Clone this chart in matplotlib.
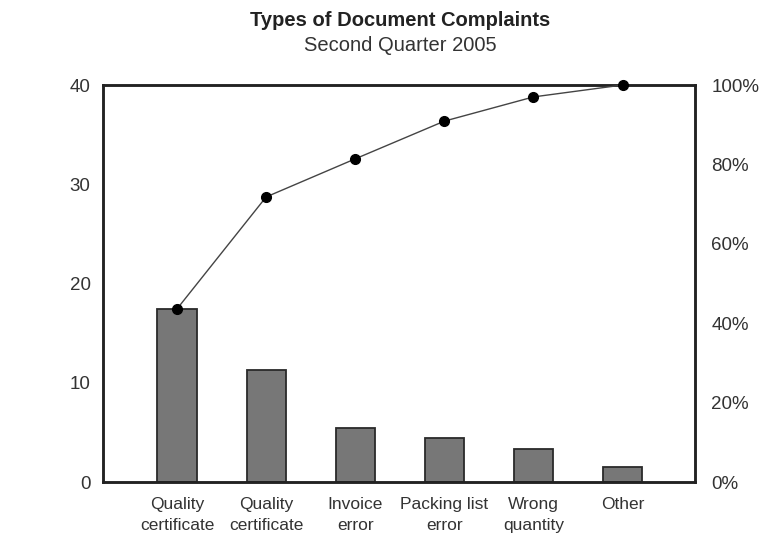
#!/usr/bin/env python3
"""
Pareto chart - types of document complaints, second quarter 2005
"""

import matplotlib
matplotlib.use("Agg")
import matplotlib.pyplot as plt

# dados
categorias = [
    "Quality\ncertificate",
    "Quality\ncertificate",
    "Invoice\nerror",
    "Packing list\nerror",
    "Wrong\nquantity",
    "Other",
]
reclamacoes = [17.4, 11.3, 5.4, 4.4, 3.3, 1.5]
acumulado_pct = [43.6, 71.8, 81.4, 90.9, 97.0, 100.0]
ticks_esq = [0, 10, 20, 30, 40]
ticks_dir = [0, 20, 40, 60, 80, 100]

plt.rcParams["font.family"] = ["Liberation Sans", "DejaVu Sans"]

fig = plt.figure(figsize=(7.66, 5.36), dpi=100)
ax = fig.add_axes([0.1345, 0.1007, 0.7725, 0.7407])

x = list(range(len(categorias)))
ax.bar(x, reclamacoes, width=0.44, color="#777777", edgecolor="#2a2a2a",
       linewidth=1.3, zorder=2)

ax.set_xlim(-0.83, 5.81)
ax.set_ylim(0, 40)
ax.set_yticks(ticks_esq)
ax.set_yticklabels([str(t) for t in ticks_esq], fontsize=13.5, color="#333333")
ax.set_xticks(x)
ax.set_xticklabels(categorias, fontsize=12.5, color="#333333", linespacing=1.5)
ax.tick_params(axis="both", length=0)
ax.tick_params(axis="y", pad=9)
ax.tick_params(axis="x", pad=11)

for lado in ax.spines.values():
    lado.set_linewidth(1.8)
    lado.set_color("#222222")

ax2 = ax.twinx()
ax2.plot(x, acumulado_pct, color="#444444", linewidth=1.0, marker="o",
         markersize=7, markerfacecolor="black", markeredgecolor="black",
         clip_on=False, zorder=5)
ax2.set_ylim(0, 100)
ax2.set_yticks(ticks_dir)
ax2.set_yticklabels([f"{t}%" for t in ticks_dir], fontsize=13.5, color="#333333")
ax2.tick_params(axis="y", length=0, pad=12)
for lado in ax2.spines.values():
    lado.set_linewidth(1.8)
    lado.set_color("#222222")

fig.text(0.522, 0.962, "Types of Document Complaints", ha="center",
         va="center", fontsize=14.5, fontweight="bold", color="#222222")
fig.text(0.522, 0.916, "Second Quarter 2005", ha="center", va="center",
         fontsize=14.5, color="#333333")

fig.savefig("out.png", dpi=100)
